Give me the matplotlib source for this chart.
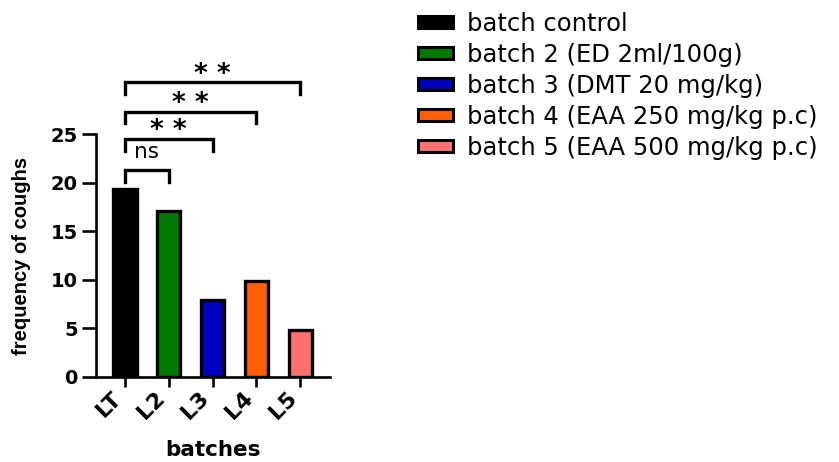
import matplotlib.pyplot as plt
from matplotlib.patches import Patch

# data
batches = ["LT", "L2", "L3", "L4", "L5"]
coughs = [19.3, 17.1, 7.9, 9.9, 4.8]
colors = ["#000000", "#007A00", "#0000BE", "#FF5F00", "#FF7070"]
legend_labels = [
  "batch control",
  "batch 2 (ED 2ml/100g)",
  "batch 3 (DMT 20 mg/kg)",
  "batch 4 (EAA 250 mg/kg p.c)",
  "batch 5 (EAA 500 mg/kg p.c)",
]

# significance brackets: compared bar, bracket top, label
bracket_to = [1, 2, 3, 4]
bracket_top = [21.3, 24.5, 27.3, 30.3]
bracket_text = ["ns", "* *", "* *", "* *"]
leg_drop = 1.2

fig = plt.figure(figsize=(8.39, 4.62), dpi=100)
ax = fig.add_axes([96 / 839, 85 / 462, 234 / 839, 243 / 462])

x = list(range(len(batches)))
ax.bar(x, coughs, width=0.53, color=colors, edgecolor="black", linewidth=2.4, zorder=2)

ax.set_xlim(-0.66, 4.68)
ax.set_ylim(0, 25)
ax.set_yticks([0, 5, 10, 15, 20, 25])
for side in ("top", "right"):
  ax.spines[side].set_visible(False)
for side in ("left", "bottom"):
  ax.spines[side].set_linewidth(1.9)
ax.tick_params(axis="y", length=10, width=1.9, labelsize=14, pad=3)
ax.tick_params(axis="x", length=7, width=1.9, labelsize=16, pad=1)
ax.set_xticks(x)
ax.set_xticklabels(batches, rotation=45, ha="right", fontweight="bold")
for lab in ax.get_yticklabels():
  lab.set_fontweight("bold")

ax.set_ylabel("frequency of coughs", fontsize=14.5, fontweight="bold",
              family="Liberation Sans", labelpad=14)
ax.set_xlabel("batches", fontsize=15.5, fontweight="bold", labelpad=12)

for end, top, txt in zip(bracket_to, bracket_top, bracket_text):
  ax.plot([0, 0, end, end], [top - leg_drop, top, top, top - leg_drop],
          color="black", linewidth=2.4, clip_on=False, solid_joinstyle="miter")
  if txt == "ns":
    ax.text(end / 2, top + 1.2, txt, ha="center", va="baseline", fontsize=15.5)
  else:
    ax.text(end / 2, top + 0.05, txt, ha="center", va="baseline", fontsize=19,
            fontweight="bold")

handles = [Patch(facecolor=c, edgecolor="black", linewidth=2.2) for c in colors]
fig.legend(handles, legend_labels, loc="upper left", bbox_to_anchor=(408 / 839, 1 - 2 / 462),
           frameon=False, fontsize=17.5, handlelength=1.44, handleheight=0.41,
           handletextpad=0.6, labelspacing=0.29, borderaxespad=0)

fig.savefig("out.png", dpi=100, facecolor="white")
